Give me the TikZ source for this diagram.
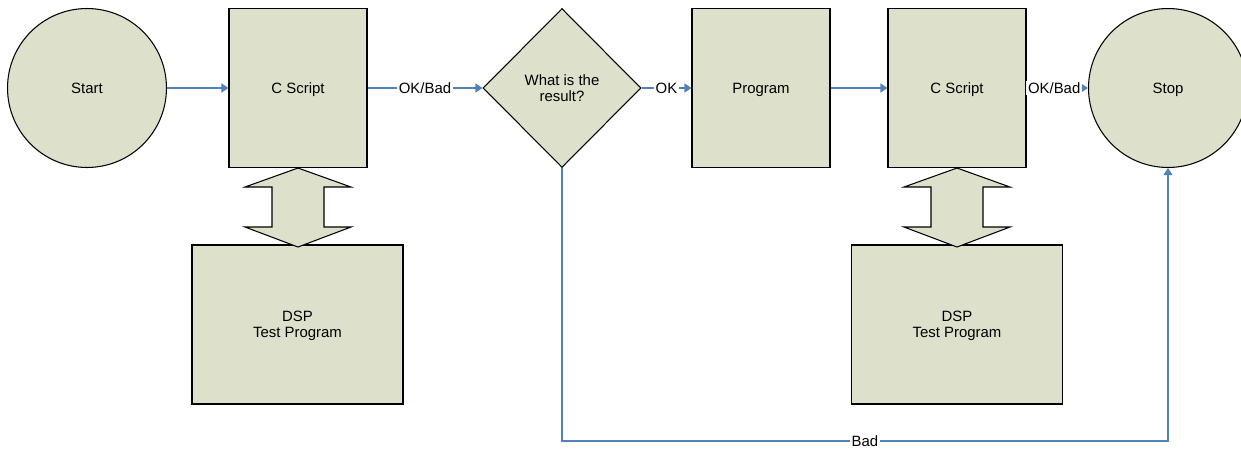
\documentclass[tikz,border=0pt]{standalone}
\usepackage{fontspec}
\setmainfont{Liberation Sans}
\usetikzlibrary{shapes.geometric,arrows.meta}

\definecolor{boxfill}{RGB}{221,224,202}
\definecolor{linkblue}{RGB}{79,129,189}

\begin{document}
\begin{tikzpicture}[x=0.02cm, y=-0.02cm,
    every node/.style={font=\fontsize{8.5}{9.1}\selectfont, align=center, inner sep=0pt},
    box/.style={draw, fill=boxfill, line width=0.6pt, minimum width=2.76cm, minimum height=3.18cm, text depth=0pt},
    bigbox/.style={box, minimum width=4.22cm},
    term/.style={circle, draw, fill=boxfill, line width=0.6pt, minimum size=3.18cm, text depth=0pt},
    decide/.style={diamond, draw, fill=boxfill, line width=0.6pt, minimum width=3.16cm, minimum height=3.18cm},
    link/.style={draw=linkblue, line width=1pt, -{Triangle[length=4pt,width=5pt]}},
    lbl/.style={fill=white, inner sep=1pt},
    blockarrow/.style={draw, fill=boxfill, line width=0.6pt}]
                \useasboundingbox (0,0) rectangle (1241,450);
                \node[term] (start) at (87,88) {Start};
                \node[box] (cs1) at (298,88) {C Script};
                \node[decide] (dec) at (562,88) {What is the\\result?};
                \node[box] (prog) at (761,88) {Program};
                \node[box] (cs2) at (957,88) {C Script};
                \node[term] (stop) at (1168,88) {Stop};
                \node[bigbox] (dsp1) at (297.5,324.5) {DSP\\Test Program};
                \node[bigbox] (dsp2) at (957,324.5) {DSP\\Test Program};
                \coordinate (low) at (0,441);

                \draw[link] (start) -- (cs1);
                \draw[link] (cs1) -- node[lbl] {OK/Bad} (dec);
                \draw[link] (dec) -- node[lbl] {OK} (prog);
                \draw[link] (prog) -- (cs2);
                \draw[link] (cs2) -- node[lbl, pos=0.45] {OK/Bad} (stop);
                \draw[link] (dec.south) -- (dec.south |- low) -- node[lbl] {Bad} (stop.south |- low) -- (stop.south);

                \foreach \b in {cs1,cs2}
                    \draw[blockarrow] (\b.south) -- ++(53,19) -- ++(-27,0) -- ++(0,40) -- ++(27,0)
                        -- ++(-53,20) -- ++(-53,-20) -- ++(27,0) -- ++(0,-40) -- ++(-27,0) -- cycle;
            \end{tikzpicture}
\end{document}
